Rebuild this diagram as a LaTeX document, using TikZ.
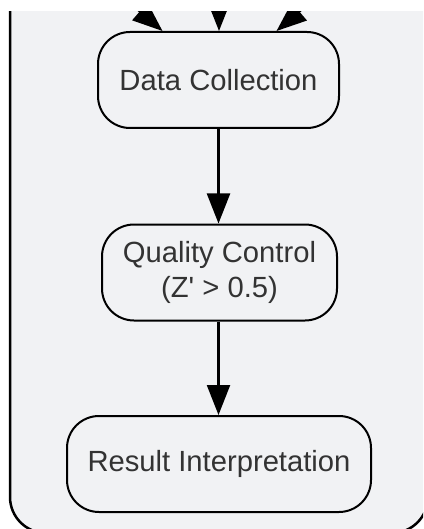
\documentclass[tikz,border=0pt]{standalone}
\usepackage{fontspec}
\setmainfont{Liberation Sans}
\usetikzlibrary{arrows.meta}
\definecolor{clfill}{HTML}{F1F2F4}
\definecolor{txt}{HTML}{333333}
\begin{document}
\begin{tikzpicture}[x=1pt,y=-1pt,
  proc/.style={draw=black, line width=2pt, fill=clfill, rounded corners=32pt,
    minimum height=96pt, text=txt, font=\fontsize{29.2}{35}\selectfont,
    align=center, inner sep=0pt},
  flow/.style={draw=black, line width=2.2pt, -{Triangle[length=30pt,width=23pt]}},
  cluster/.style={draw=black, line width=2.5pt, fill=clfill, rounded corners=36pt}]
\useasboundingbox (0,0) rectangle (423,529);
\fill[white] (0,0) rectangle (423,529);
\begin{scope}
  \clip (0,12) rectangle (423,529);
  \draw[cluster] (10,-60) rectangle (428,533);
\end{scope}
\node[proc, minimum width=241pt] (dc) at (218.5,80) {Data Collection};
\node[proc, minimum width=235pt] (qc) at (219.5,272.5) {Quality Control\\(Z\textquotesingle{} > 0.5)};
\node[proc, minimum width=304pt] (ri) at (219,464) {Result Interpretation};
\coordinate (s1) at (86,-35);
\coordinate (s2) at (219,-60);
\coordinate (s3) at (354,-35);
\begin{scope}
  \clip (0,12) rectangle (423,529);
  \draw[flow] (s1) -- ([xshift=-56pt]dc.north);
  \draw[flow] (s2) -- ([xshift=0.5pt]dc.north);
  \draw[flow] (s3) -- ([xshift=58pt]dc.north);
\end{scope}
\draw[flow] (dc.south) -- (qc.north -| dc.south);
\draw[flow] (qc.south -| dc.south) -- (ri.north -| dc.south);
\end{tikzpicture}
\end{document}
